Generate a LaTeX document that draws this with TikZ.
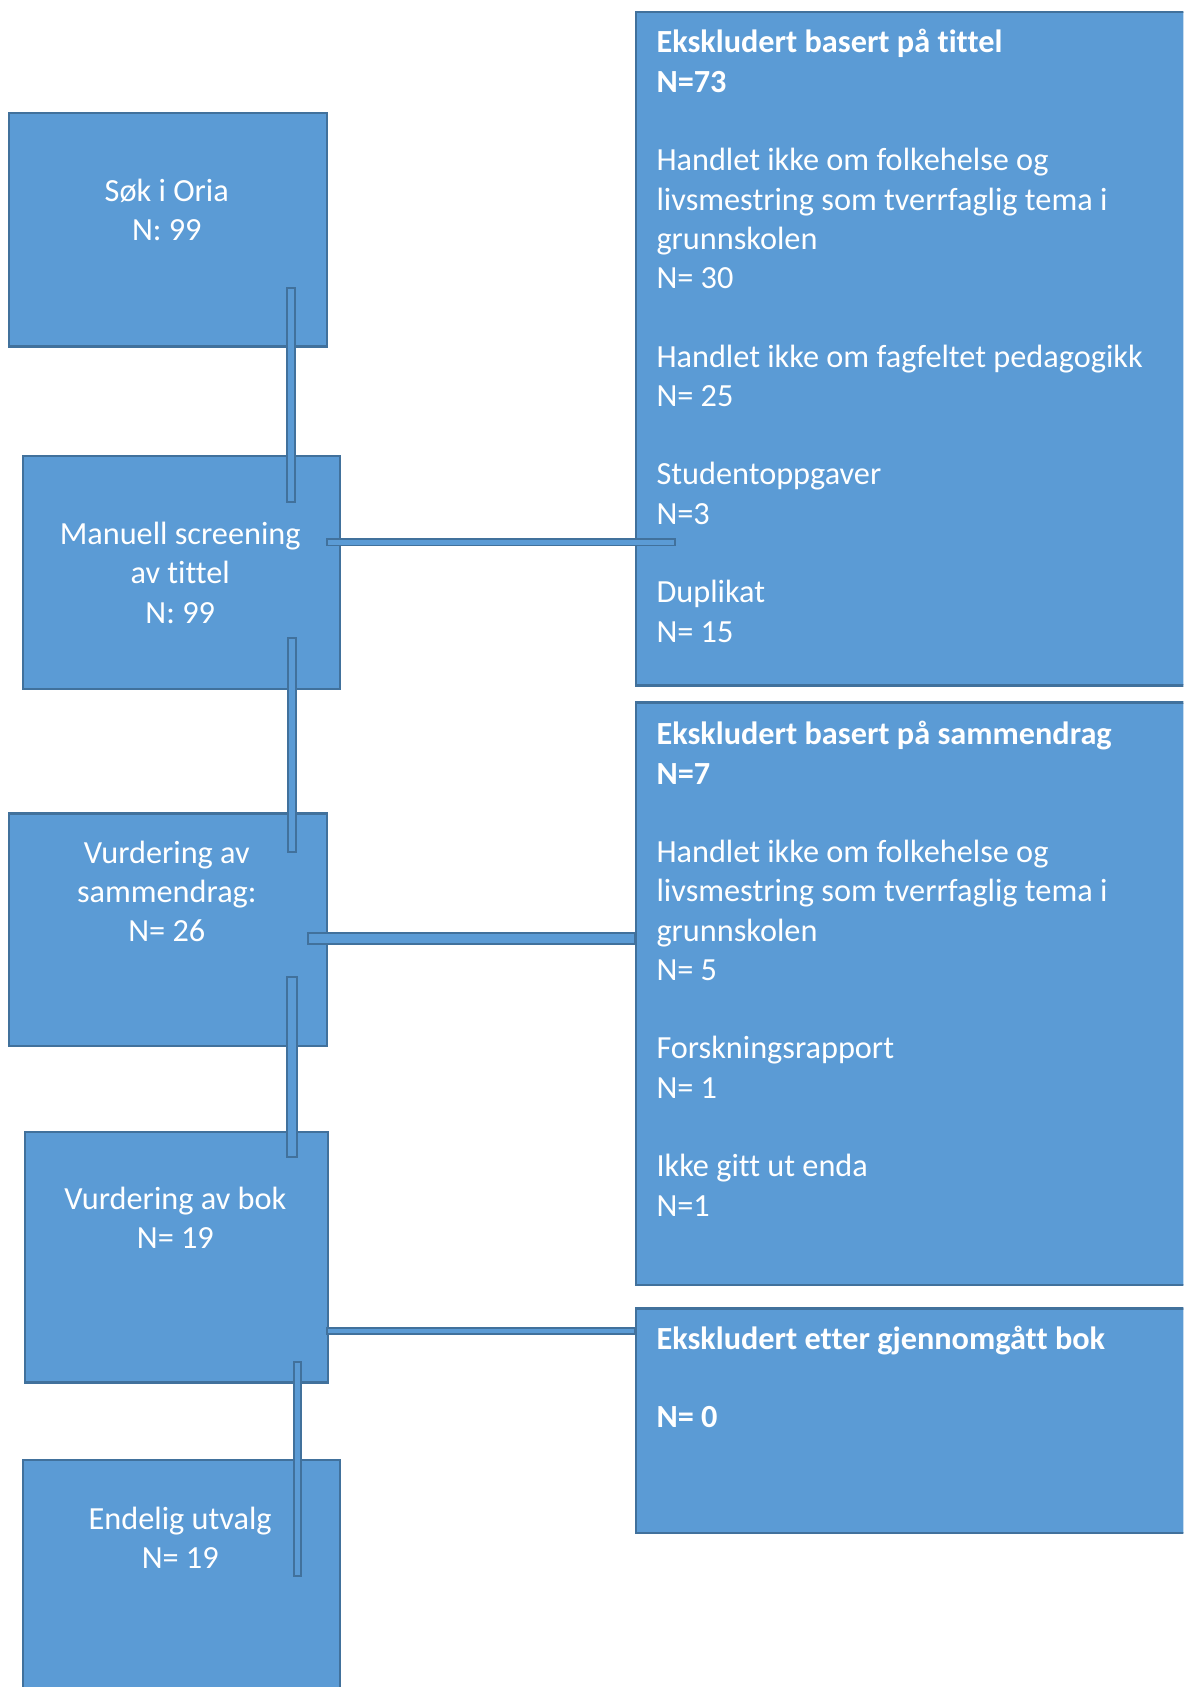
\documentclass[tikz,border=0pt]{standalone}
\usepackage{fontspec}
\setmainfont{Carlito}[Ligatures={NoCommon,NoContextual,NoRequired},RawFeature={-liga;-clig;-calt;-dlig}]
\definecolor{boxfill}{HTML}{5B9BD5}
\definecolor{boxline}{HTML}{41719C}
\begin{document}
\begin{tikzpicture}[x=1pt,y=-1pt,
  box/.style={draw=boxline, fill=boxfill, line width=2.2pt, inner sep=0pt, anchor=north west},
  lbl/.style={text=white, inner sep=0pt, font=\fontsize{30}{36.5}\selectfont},
  bar/.style={draw=boxline, fill=boxfill, line width=1.8pt}]
\useasboundingbox (0,0) rectangle (1100,1568);
\clip (0,0) rectangle (1100,1568);
% left boxes
\node[box, minimum width=296pt, minimum height=217pt] (b1) at (7,104) {};
\node[box, minimum width=295pt, minimum height=216pt] (b2) at (20,423) {};
\node[box, minimum width=296pt, minimum height=216pt] (b3) at (7,755) {};
\node[box, minimum width=282pt, minimum height=233pt] (b4) at (22,1051) {};
\node[box, minimum width=295pt, minimum height=260pt] (b5) at (20,1356) {};
% right boxes
\node[box, minimum width=560pt, minimum height=626pt] (r1) at (590,10) {};
\node[box, minimum width=560pt, minimum height=541pt] (r2) at (590,652) {};
\node[box, minimum width=560pt, minimum height=209pt] (r3) at (590,1215) {};
% left texts
\node[lbl, align=center, anchor=north] (t1) at (155,161.5) {\strut Søk i Oria\\N: 99};
\node[lbl, align=center, anchor=north] (t2) at (167.5,480.5) {\strut Manuell screening\\av tittel\\N: 99};
\node[lbl, align=center, anchor=north] (t3) at (155,776.5) {\strut Vurdering av\\sammendrag:\\N= 26};
\node[lbl, align=center, anchor=north] (t4) at (163,1098.5) {\strut Vurdering av bok\\N= 19};
\node[lbl, align=center, anchor=north] (t5) at (167.5,1395.5) {\strut Endelig utvalg\\N= 19};
% right texts
\node[lbl, align=left, anchor=north west] (rt1) at (610,23.5) {\strut\textbf{Ekskludert basert på tittel}\\\textbf{N=73}\\[36.5pt]
Handlet ikke om folkehelse og\\livsmestring som tverrfaglig tema i\\grunnskolen\\N= 30\\[36.5pt]
Handlet ikke om fagfeltet pedagogikk\\N= 25\\[36.5pt]
Studentoppgaver\\N=3\\[36.5pt]
Duplikat\\N= 15};
\node[lbl, align=left, anchor=north west] (rt2) at (610,666.5) {\strut\textbf{Ekskludert basert på sammendrag}\\\textbf{N=7}\\[36.5pt]
Handlet ikke om folkehelse og\\livsmestring som tverrfaglig tema i\\grunnskolen\\N= 5\\[36.5pt]
Forskningsrapport\\N= 1\\[36.5pt]
Ikke gitt ut enda\\N=1};
\node[lbl, align=left, anchor=north west] (rt3) at (610,1228.5) {\strut\textbf{Ekskludert etter gjennomgått bok}\\[36.5pt]\textbf{N= 0}};
% connector bars
\coordinate (v1a) at (267,268);  \coordinate (v1b) at (274,467);
\coordinate (h1a) at (304,501);  \coordinate (h1b) at (627,507);
\coordinate (v2a) at (268,593);  \coordinate (v2b) at (275,792);
\coordinate (h2a) at (286,867);  \coordinate (h2b) at (590,877);
\coordinate (v3a) at (267,908);  \coordinate (v3b) at (276,1075);
\coordinate (h3a) at (304,1234); \coordinate (h3b) at (590,1240);
\coordinate (v4a) at (273,1266); \coordinate (v4b) at (280,1465);
\draw[bar] (v1a) rectangle (v1b);
\draw[bar] (h1a) rectangle (h1b);
\draw[bar] (v2a) rectangle (v2b);
\draw[bar] (h2a) rectangle (h2b);
\draw[bar] (v3a) rectangle (v3b);
\draw[bar] (h3a) rectangle (h3b);
\draw[bar] (v4a) rectangle (v4b);
\end{tikzpicture}
\end{document}
